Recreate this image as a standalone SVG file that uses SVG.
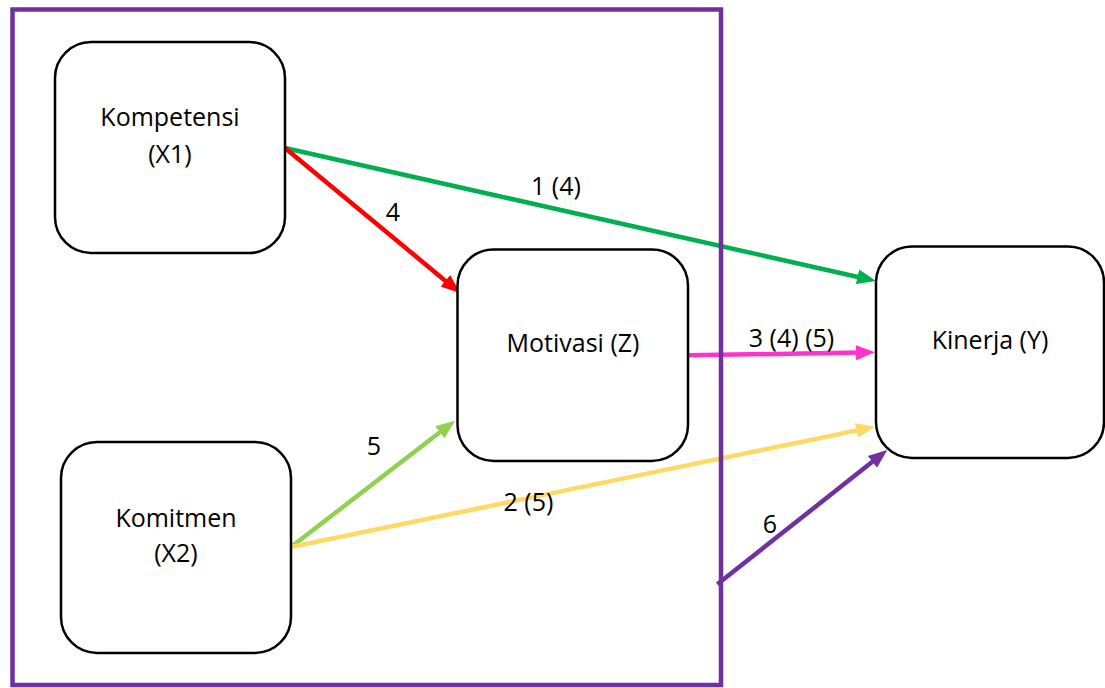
<svg xmlns="http://www.w3.org/2000/svg" width="1105" height="688" viewBox="0 0 1105 688">
<style>
.node{fill:#fff;stroke:#000;stroke-width:2.5}
.t{font-family:"Open Sans","Liberation Sans",sans-serif;font-size:25px;fill:#000;text-anchor:middle}
.c{fill:none;stroke-width:4.5;stroke-linecap:butt}
</style>
<defs>
<marker id="mGreen" markerUnits="userSpaceOnUse" markerWidth="20" markerHeight="16" refX="4" refY="8" orient="auto"><path d="M0,0.5 L19,8 L0,15.5 z" fill="#00B050"/></marker>
<marker id="mRed" markerUnits="userSpaceOnUse" markerWidth="20" markerHeight="16" refX="4" refY="8" orient="auto"><path d="M0,0.5 L19,8 L0,15.5 z" fill="#FF0000"/></marker>
<marker id="mPink" markerUnits="userSpaceOnUse" markerWidth="20" markerHeight="16" refX="4" refY="8" orient="auto"><path d="M0,0.5 L19,8 L0,15.5 z" fill="#FF33CC"/></marker>
<marker id="mLime" markerUnits="userSpaceOnUse" markerWidth="20" markerHeight="16" refX="4" refY="8" orient="auto"><path d="M0,0.5 L19,8 L0,15.5 z" fill="#92D050"/></marker>
<marker id="mYellow" markerUnits="userSpaceOnUse" markerWidth="20" markerHeight="16" refX="4" refY="8" orient="auto"><path d="M0,0.5 L19,8 L0,15.5 z" fill="#FFD966"/></marker>
<marker id="mPurple" markerUnits="userSpaceOnUse" markerWidth="20" markerHeight="16" refX="4" refY="8" orient="auto"><path d="M0,0.5 L19,8 L0,15.5 z" fill="#7030A0"/></marker>
</defs>
<rect width="1105" height="688" fill="#fff"/>
<g id="connectors">
<line class="c" x1="285" y1="148" x2="861.4" y2="277.7" stroke="#00B050" marker-end="url(#mGreen)"/>
<line class="c" x1="285" y1="148" x2="448.5" y2="283.4" stroke="#FF0000" marker-end="url(#mRed)"/>
<line class="c" x1="688" y1="355.3" x2="860" y2="352.6" stroke="#FF33CC" marker-end="url(#mPink)"/>
<line class="c" x1="291" y1="547" x2="443.1" y2="429.8" stroke="#92D050" marker-end="url(#mLime)"/>
<line class="c" x1="291" y1="547" x2="860.3" y2="429.7" stroke="#FFD966" marker-end="url(#mYellow)"/>
<line class="c" x1="717.3" y1="584.3" x2="875.5" y2="459.3" stroke="#7030A0" marker-end="url(#mPurple)"/>
<text class="t" x="556" y="195">1 (4)</text>
<text class="t" x="393" y="221">4</text>
<text class="t" x="791.5" y="347">3 (4) (5)</text>
<text class="t" x="374" y="455">5</text>
<text class="t" x="528.5" y="511">2 (5)</text>
<text class="t" x="770" y="533">6</text>
</g>
<rect id="frame" x="12.5" y="9.5" width="708.5" height="675.5" fill="none" stroke="#7030A0" stroke-width="4.5"/>
<g id="kompetensi">
<rect class="node" x="55" y="42" width="230" height="211" rx="36" ry="36"/>
<text class="t" x="170" y="126">Kompetensi</text>
<text class="t" x="170" y="163">(X1)</text>
</g>
<g id="komitmen">
<rect class="node" x="61" y="442" width="230" height="211" rx="36" ry="36"/>
<text class="t" x="176" y="527">Komitmen</text>
<text class="t" x="176" y="562">(X2)</text>
</g>
<g id="motivasi">
<rect class="node" x="457.5" y="249.5" width="230.5" height="211.5" rx="36" ry="36"/>
<text class="t" x="573" y="352">Motivasi (Z)</text>
</g>
<g id="kinerja">
<rect class="node" x="876" y="246.5" width="228" height="211.5" rx="36" ry="36"/>
<text class="t" x="990" y="349">Kinerja (Y)</text>
</g>
</svg>
